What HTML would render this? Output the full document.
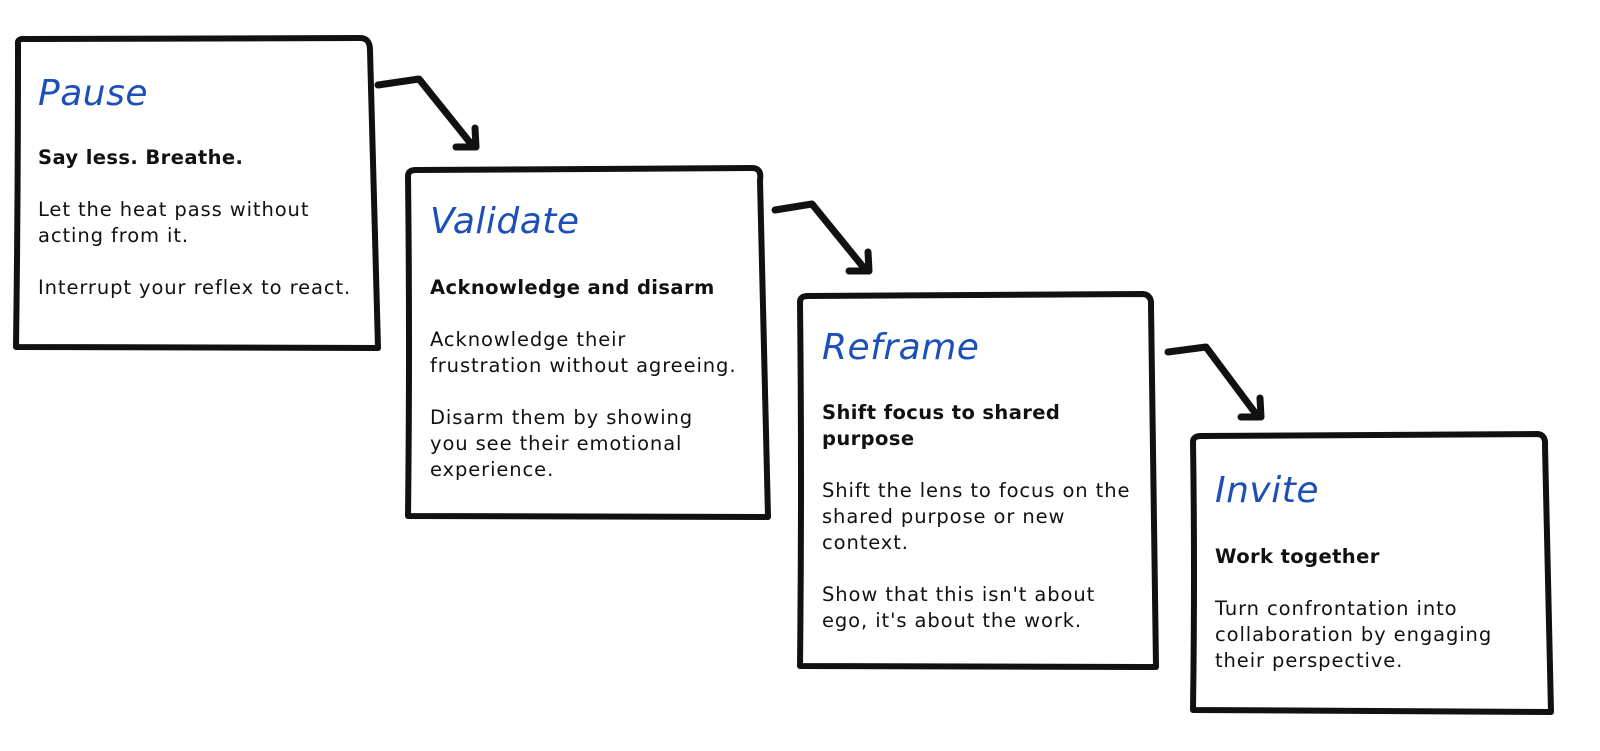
<!DOCTYPE html>
<html><head><meta charset="utf-8"><style>
body{margin:0;width:1600px;height:751px;background:#fff;position:relative;overflow:hidden;font-family:"DejaVu Sans","Liberation Sans",sans-serif;color:#111}
svg{position:absolute;left:0;top:0}
.t{position:absolute;font-size:19.5px;line-height:26px;letter-spacing:0.9px;white-space:nowrap}
.h{font-family:"DejaVu Sans",sans-serif;font-style:oblique;color:#1c4fb8;font-size:36px;line-height:40px;letter-spacing:0.5px}
b{font-weight:bold;letter-spacing:0.4px}
p{margin:0}
</style></head><body>
<svg width="1600" height="751" fill="none" stroke="#111" stroke-width="6" stroke-linecap="round" stroke-linejoin="round">
<path d="M18 44 Q17 38 26 39 L360 38 Q370 38 370 50 L378 348 L16 347 Q18 200 18 44Z"/>
<path d="M408 176 Q408 170 416 170 L752 168 Q762 168 760 180 L768 517 L408 516 Q410 340 408 176Z"/>
<path d="M800 302 Q800 296 808 296 L1143 294 Q1152 295 1151 306 L1156 667 L800 666 Q802 480 800 302Z"/>
<path d="M1193 442 Q1193 436 1201 436 L1538 434 Q1546 435 1545 446 L1551 712 L1193 710 Q1195 570 1193 442Z"/>
<g stroke-width="7">
<path d="M378 85 L419 79 L472 145"/><path d="M456 147 L476 147 L475 128"/>
<path d="M775 210 L812 204 L864 268"/><path d="M849 271 L869 271 L868 252"/>
<path d="M1168 352 L1206 347 L1256 414"/><path d="M1241 417 L1261 417 L1260 398"/>
</g>
</svg>
<div class="t h" style="left:38px;top:74px">Pause</div>
<div class="t" style="left:38px;top:145px"><p><b>Say less. Breathe.</b></p><br><p>Let the heat pass without<br>acting from it.</p><br><p>Interrupt your reflex to react.</p></div>
<div class="t h" style="left:430px;top:202px">Validate</div>
<div class="t" style="left:430px;top:275px"><p><b>Acknowledge and disarm</b></p><br><p>Acknowledge their<br>frustration without agreeing.</p><br><p>Disarm them by showing<br>you see their emotional<br>experience.</p></div>
<div class="t h" style="left:822px;top:328px">Reframe</div>
<div class="t" style="left:822px;top:400px"><p><b>Shift focus to shared<br>purpose</b></p><br><p>Shift the lens to focus on the<br>shared purpose or new<br>context.</p><br><p>Show that this isn't about<br>ego, it's about the work.</p></div>
<div class="t h" style="left:1215px;top:471px">Invite</div>
<div class="t" style="left:1215px;top:544px"><p><b>Work together</b></p><br><p>Turn confrontation into<br>collaboration by engaging<br>their perspective.</p></div>
</body></html>
